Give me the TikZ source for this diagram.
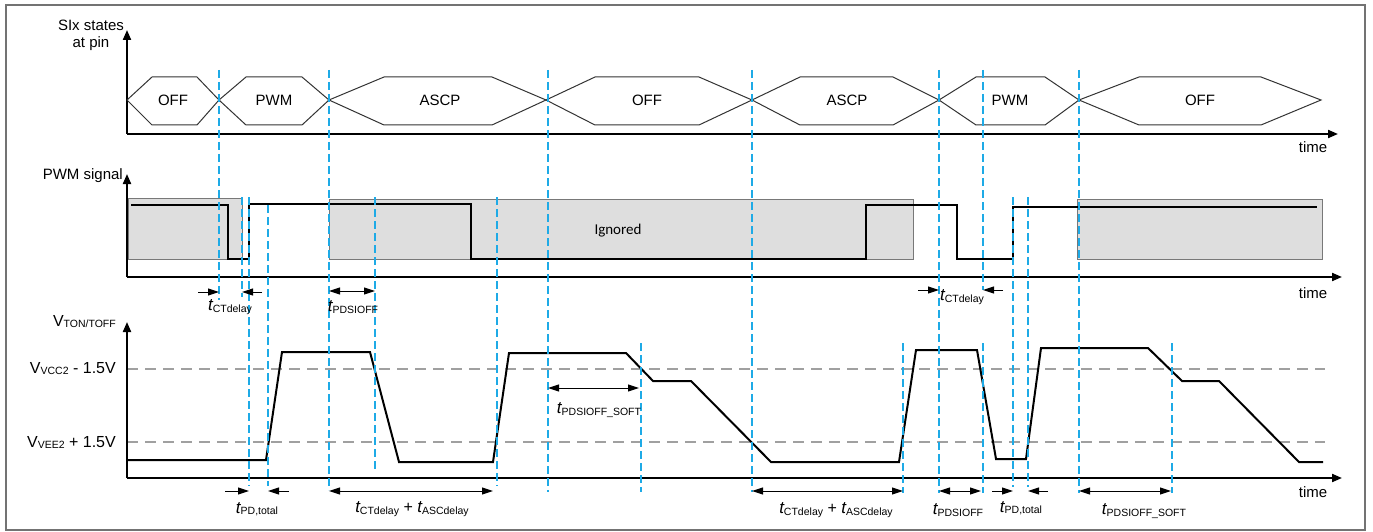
\documentclass[tikz,border=0pt]{standalone}
\usepackage{fontspec}
\setmainfont{Liberation Sans}
\newfontfamily\calfont{Carlito}
\usetikzlibrary{arrows.meta}
\definecolor{cyanline}{RGB}{30,170,230}
\definecolor{boxfill}{RGB}{222,222,222}
\definecolor{boxedge}{RGB}{120,120,120}
\definecolor{refgray}{RGB}{160,160,160}
\newcommand\tlab[1]{{\fontsize{17}{18}\selectfont\itshape t}\raisebox{-1.5pt}{\fontsize{10.5}{12}\selectfont #1}}
\newcommand\vlab[1]{{\fontsize{16}{18}\selectfont V}\raisebox{-1pt}{\fontsize{10.5}{12}\selectfont #1}}
\tikzset{
  bl/.style={draw=cyanline, line width=1.3pt, dash pattern=on 8pt off 4pt},
  axis/.style={line width=2pt, -{Triangle[length=10pt,width=8pt]}},
  sig/.style={line width=2pt, line join=miter},
  hexa/.style={draw=black!80, line width=1pt},
  refl/.style={draw=refgray, line width=1.6pt, dash pattern=on 11pt off 7pt},
  dimr/.style={line width=1pt, -{Triangle[length=11pt,width=7pt]}},
  dimb/.style={line width=1pt, {Triangle[length=11pt,width=7pt]}-{Triangle[length=11pt,width=7pt]}},
  txt/.style={font=\fontsize{15}{17}\selectfont, inner sep=0pt},
  gbox/.style={draw=boxedge, fill=boxfill, line width=1pt},
}
\begin{document}
\begin{tikzpicture}[x=1pt,y=-1pt]
\useasboundingbox (0,0) rectangle (1373,532);
\draw[draw=black!55, line width=1.5pt] (6,5) rectangle (1365,530);

% ---------- top section: states ----------
\draw[axis] (127,134) -- (127,30);
\draw[axis] (127,134) -- (1338,134);
\node[txt, align=center] (lstates) at (91,35) {SIx states\\at pin};
\node[txt] (time1) at (1313,147) {time};

\draw[hexa] (127,100) -- (152,77) -- (197,77) -- (219,100) -- (197,125) -- (152,125) -- cycle;
\draw[hexa] (219,100) -- (246,77) -- (302,77) -- (329,100) -- (302,125) -- (246,125) -- cycle;
\draw[hexa] (329,100) -- (384,77) -- (492,77) -- (546,100) -- (492,125) -- (384,125) -- cycle;
\draw[hexa] (546,100) -- (595,77) -- (699,77) -- (752,100) -- (699,125) -- (595,125) -- cycle;
\draw[hexa] (752,100) -- (800,77) -- (893,77) -- (939,100) -- (893,125) -- (800,125) -- cycle;
\draw[hexa] (939,100) -- (976,77) -- (1045,77) -- (1079,100) -- (1045,125) -- (976,125) -- cycle;
\draw[hexa] (1079,100) -- (1139,77) -- (1261,77) -- (1321,100) -- (1261,125) -- (1139,125) -- cycle;
\node[txt] (s1) at (173,100) {OFF};
\node[txt] (s2) at (274,100) {PWM};
\node[txt] (s3) at (440,100) {ASCP};
\node[txt] (s4) at (647,100) {OFF};
\node[txt] (s5) at (847,100) {ASCP};
\node[txt] (s6) at (1010,100) {PWM};
\node[txt] (s7) at (1200,100) {OFF};

% ---------- PWM section ----------
\draw[gbox] (128,198) rectangle (242,259);
\draw[gbox] (329,199) rectangle (913,259);
\draw[gbox] (1077,199) rectangle (1322,259);
\node[inner sep=0pt, font=\calfont\fontsize{15}{17}\selectfont] (ign) at (618,231) {Ignored};
\draw[sig] (131,205) -- (228,205) -- (228,259) -- (249,259) -- (249,204) -- (471,204) -- (471,259)
  -- (866,259) -- (866,205) -- (957,205) -- (957,259) -- (1013,259) -- (1013,207) -- (1317,207);
\draw[axis] (127,277) -- (127,174);
\draw[axis] (127,277) -- (1342,277);
\node[txt, anchor=east] (lpwm) at (123,176) {PWM signal};
\node[txt] (time2) at (1313,293) {time};

% ---------- bottom section ----------
\draw[refl] (127,369) -- (1325,369);
\draw[refl] (127,442) -- (1325,442);
\draw[sig] (128,460) -- (266,460) -- (282,352) -- (370,352) -- (399,462) -- (493,462) -- (509,353)
  -- (626,353) -- (653,381) -- (691,381) -- (771,462) -- (899,462) -- (916,350) -- (977,350)
  -- (996,459) -- (1026,459) -- (1041,348) -- (1148,348) -- (1182,381) -- (1219,381)
  -- (1299,462) -- (1323,462);
\draw[axis] (127,478) -- (127,322);
\draw[axis] (127,478) -- (1342,478);
\node[inner sep=0pt, anchor=east] (lvt) at (116,322) {\vlab{TON/TOFF}};
\node[inner sep=0pt, anchor=east] (lvcc) at (116,369) {\vlab{VCC2}{\fontsize{16}{18}\selectfont{} - 1.5V}};
\node[inner sep=0pt, anchor=east] (lvee) at (116,442) {\vlab{VEE2}{\fontsize{16}{18}\selectfont{} + 1.5V}};
\node[txt] (time3) at (1313,492) {time};

% ---------- blue dashed markers ----------
\draw[bl] (219,70) -- (219,300);
\draw[bl] (242,197) -- (242,297);
\draw[bl] (249,197) -- (249,486);
\draw[bl] (268,205) -- (268,486);
\draw[bl] (329,70) -- (329,490);
\draw[bl] (375,197) -- (375,470);
\draw[bl] (497,197) -- (497,486);
\draw[bl] (548,70) -- (548,492);
\draw[bl] (641,343) -- (641,492);
\draw[bl] (752,70) -- (752,492);
\draw[bl] (903,343) -- (903,493);
\draw[bl] (939,70) -- (939,493);
\draw[bl] (983,70) -- (983,290);
\draw[bl] (983,343) -- (983,493);
\draw[bl] (1013,197) -- (1013,487);
\draw[bl] (1028,197) -- (1028,487);
\draw[bl] (1079,70) -- (1079,493);
\draw[bl] (1172,343) -- (1172,493);

% ---------- dimension arrows ----------
\coordinate (a1) at (198,292); \coordinate (a2) at (219,292);
\coordinate (a3) at (262,292); \coordinate (a4) at (242,292);
\draw[dimr] (a1) -- (a2);
\draw[dimr] (a3) -- (a4);
\node[inner sep=0pt] (d1) at (230,307) {\tlab{CTdelay}};

\coordinate (b1) at (329,291); \coordinate (b2) at (375,291);
\draw[dimb] (b1) -- (b2);
\node[inner sep=0pt] (d2) at (353,307) {\tlab{PDSIOFF}};

\coordinate (c1) at (918,290); \coordinate (c2) at (939,290);
\coordinate (c3) at (1003,290); \coordinate (c4) at (983,290);
\draw[dimr] (c1) -- (c2);
\draw[dimr] (c3) -- (c4);
\node[inner sep=0pt] (d3) at (962,297) {\tlab{CTdelay}};

\coordinate (e1) at (225,491); \coordinate (e2) at (249,491);
\coordinate (e3) at (289,491); \coordinate (e4) at (268,491);
\draw[dimr] (e1) -- (e2);
\draw[dimr] (e3) -- (e4);
\node[inner sep=0pt] (d4) at (257,509) {\tlab{PD,total}};

\coordinate (f1) at (329,491); \coordinate (f2) at (493,491);
\draw[dimb] (f1) -- (f2);
\node[inner sep=0pt] (d5) at (412,509) {\tlab{CTdelay}{\fontsize{16}{18}\selectfont{} + }\tlab{ASCdelay}};

\coordinate (g1) at (548,388); \coordinate (g2) at (639,388);
\draw[dimb] (g1) -- (g2);
\node[inner sep=0pt] (d6) at (599,410) {\tlab{PDSIOFF\_SOFT}};

\coordinate (h1) at (752,491); \coordinate (h2) at (903,491);
\draw[dimb] (h1) -- (h2);
\node[inner sep=0pt] (d7) at (836,510) {\tlab{CTdelay}{\fontsize{16}{18}\selectfont{} + }\tlab{ASCdelay}};

\coordinate (i1) at (939,491); \coordinate (i2) at (981,491);
\draw[dimb] (i1) -- (i2);
\node[inner sep=0pt] (d8) at (958,510) {\tlab{PDSIOFF}};

\coordinate (j1) at (992,491); \coordinate (j2) at (1013,491);
\coordinate (j3) at (1048,491); \coordinate (j4) at (1028,491);
\draw[dimr] (j1) -- (j2);
\draw[dimr] (j3) -- (j4);
\node[inner sep=0pt] (d9) at (1021,508) {\tlab{PD,total}};

\coordinate (k1) at (1079,491); \coordinate (k2) at (1171,491);
\draw[dimb] (k1) -- (k2);
\node[inner sep=0pt] (d10) at (1144,511) {\tlab{PDSIOFF\_SOFT}};
\end{tikzpicture}
\end{document}
